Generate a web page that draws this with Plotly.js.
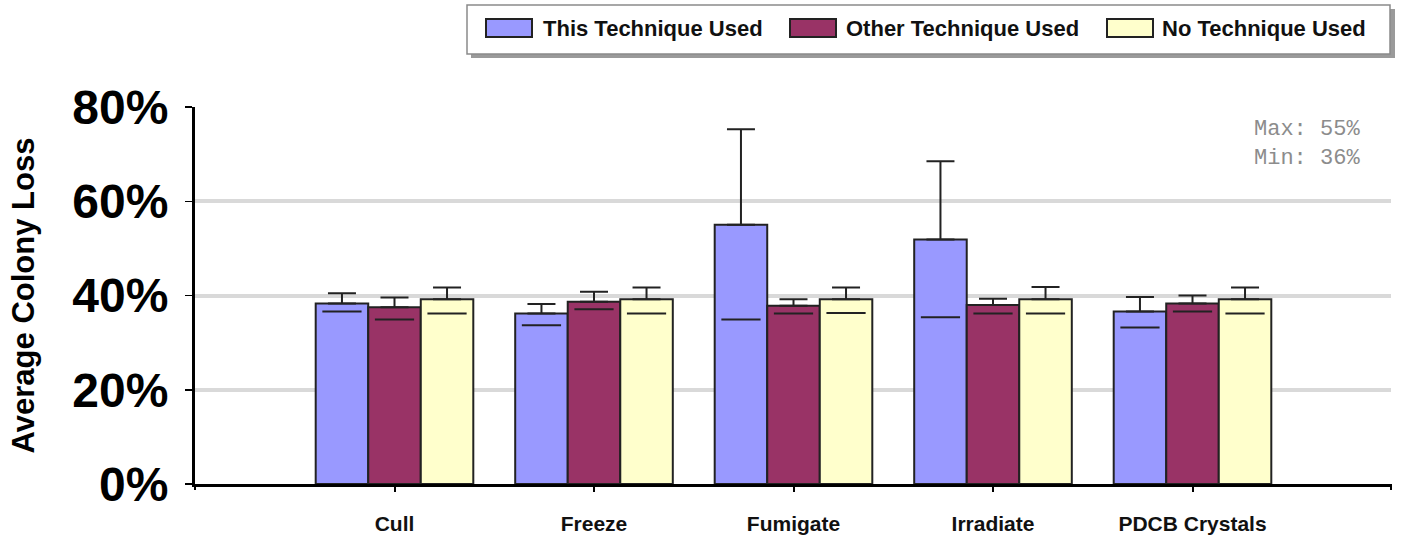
<!DOCTYPE html>
<html>
<head>
<meta charset="utf-8">
<script src="https://cdn.plot.ly/plotly-3.0.1.min.js"></script>
<style>
  html, body { margin: 0; padding: 0; background: #ffffff; }
  #chart { width: 1403px; height: 539px; }
</style>
</head>
<body>
<div id="chart"></div>
<script>
// ---- Data ----
const categories = ['Cull', 'Freeze', 'Fumigate', 'Irradiate', 'PDCB Crystals'];
const seriesNames = ['This Technique Used', 'Other Technique Used', 'No Technique Used'];

const thisValues  = [0.383, 0.362, 0.550, 0.519, 0.366];
const thisUpper   = [0.405, 0.382, 0.753, 0.685, 0.397];
const thisLower   = [0.366, 0.337, 0.349, 0.354, 0.332];

const otherValues = [0.375, 0.387, 0.378, 0.380, 0.383];
const otherUpper  = [0.396, 0.408, 0.392, 0.393, 0.400];
const otherLower  = [0.349, 0.371, 0.362, 0.362, 0.366];

const noneValues  = [0.392, 0.392, 0.392, 0.392, 0.392];
const noneUpper   = [0.417, 0.417, 0.417, 0.418, 0.417];
const noneLower   = [0.362, 0.362, 0.363, 0.362, 0.362];

const colors = ['#9999ff', '#993366', '#ffffcc'];

// ---- Build traces ----
const valueSets = [thisValues, otherValues, noneValues];
const upperSets = [thisUpper, otherUpper, noneUpper];
const lowerSets = [thisLower, otherLower, noneLower];

const traces = [];
valueSets.forEach((vals, i) => {
  traces.push({
    type: 'bar',
    name: seriesNames[i],
    x: categories,
    y: vals,
    marker: { color: colors[i], line: { color: '#222222', width: 2 } },
    error_y: {
      type: 'data',
      symmetric: false,
      array: vals.map((v, k) => upperSets[i][k] - v),
      arrayminus: vals.map(() => 0),
      color: '#222222',
      thickness: 2,
      width: 14
    },
    showlegend: false,
    hoverinfo: 'x+y'
  });
});
// lower error caps (caps only; the stem is hidden behind the bar as in the original)
lowerSets.forEach((lows, i) => {
  traces.push({
    type: 'scatter',
    mode: 'markers',
    x: categories,
    y: lows,
    marker: { symbol: 'line-ew', size: 28, line: { color: '#222222', width: 2 } },
    showlegend: false,
    hoverinfo: 'skip'
  });
});

// ---- pixel -> paper helpers for the legend box ----
const ML = 195, MR = 12, MT = 107, MB = 55, W = 1403, H = 539;
const PW = W - ML - MR, PH = H - MT - MB;
const px = v => (v - ML) / PW;
const py = v => (H - MB - v) / PH;

const shapes = [
  // legend shadow
  { type: 'rect', xref: 'paper', yref: 'paper', x0: px(471), x1: px(1395), y0: py(58), y1: py(9),
    fillcolor: '#9a9a9a', line: { width: 0 }, layer: 'above' },
  // legend box
  { type: 'rect', xref: 'paper', yref: 'paper', x0: px(467), x1: px(1390), y0: py(54), y1: py(5),
    fillcolor: '#ffffff', line: { color: '#8a8a8a', width: 1.5 }, layer: 'above' },
  // end ticks of the category axis
  { type: 'line', xref: 'paper', yref: 'paper', x0: 1, x1: 1, y0: 0, y1: py(490),
    line: { color: '#000000', width: 2 } },
  { type: 'line', xref: 'paper', yref: 'paper', x0: 0, x1: 0, y0: 0, y1: py(490),
    line: { color: '#000000', width: 2 } }
];
const swatchX = [486, 790, 1107];
const textX = [541, 844, 1160];
const annotations = [];
seriesNames.forEach((n, i) => {
  shapes.push({ type: 'rect', xref: 'paper', yref: 'paper',
    x0: px(swatchX[i]), x1: px(swatchX[i] + 46), y0: py(37), y1: py(19),
    fillcolor: colors[i], line: { color: '#222222', width: 2 }, layer: 'above' });
  annotations.push({ xref: 'paper', yref: 'paper', x: px(textX[i]), y: py(28),
    xanchor: 'left', yanchor: 'middle', showarrow: false, text: n,
    font: { family: 'Liberation Sans, Arial, sans-serif', size: 22, weight: 'bold', color: '#111111' } });
});

const maxPct = Math.round(Math.max(...thisValues) * 100);
const minPct = Math.round(Math.min(...thisValues) * 100);
annotations.push({
  xref: 'paper', yref: 'paper', x: px(1252), y: py(144), xanchor: 'left', yanchor: 'middle',
  showarrow: false, align: 'left',
  text: 'Max: ' + maxPct + '%<br>Min: ' + minPct + '%',
  font: { family: 'Liberation Mono, Courier New, monospace', size: 22, color: '#8c8c8c' }
});

const layout = {
  width: W, height: H,
  margin: { l: ML, r: MR, t: MT, b: MB, pad: 0 },
  paper_bgcolor: '#ffffff',
  plot_bgcolor: '#ffffff',
  barmode: 'group',
  bargap: 0.21,
  bargroupgap: 0,
  scattermode: 'group',
  scattergap: 0.21,
  showlegend: false,
  xaxis: {
    type: 'category',
    range: [-1, 4.995],
    showline: true, linecolor: '#000000', linewidth: 3,
    ticks: 'outside', ticklen: 5, tickwidth: 2, tickcolor: '#000000',
    showgrid: false, zeroline: false,
    tickfont: { family: 'Liberation Sans, Arial, sans-serif', size: 21, weight: 'bold', color: '#111111' },
    ticklabelstandoff: 14,
    automargin: false,
    fixedrange: true
  },
  yaxis: {
    range: [0, 0.8],
    dtick: 0.2,
    tickformat: '.0%',
    showline: true, linecolor: '#000000', linewidth: 3,
    ticks: 'outside', ticklen: 7, tickwidth: 1.5, tickcolor: '#000000',
    showgrid: true, gridcolor: '#d9d9d9', gridwidth: 4,
    zeroline: false,
    tickfont: { family: 'Liberation Sans, Arial, sans-serif', size: 48, weight: 'bold', color: '#000000' },
    ticklabelstandoff: 7,
    title: { text: 'Average Colony Loss', standoff: 29,
      font: { family: 'Liberation Sans, Arial, sans-serif', size: 31, weight: 'bold', color: '#000000' } },
    automargin: false,
    fixedrange: true
  },
  shapes: shapes,
  annotations: annotations
};

Plotly.newPlot('chart', traces, layout, { staticPlot: true, displayModeBar: false });
</script>
</body>
</html>
